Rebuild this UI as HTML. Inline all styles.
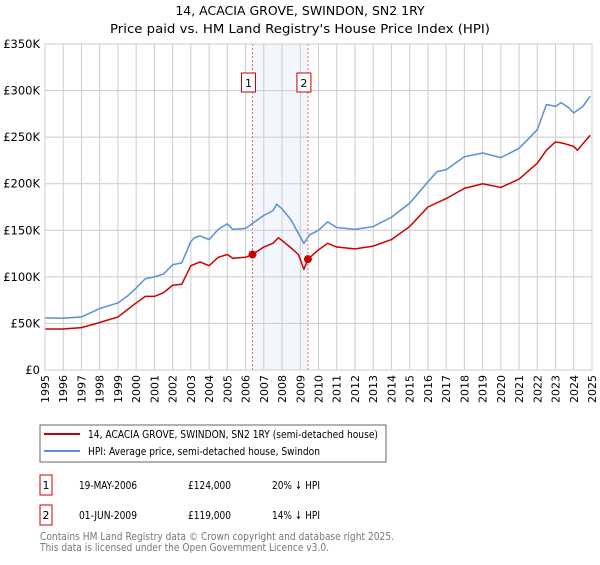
<!DOCTYPE html>
<html><head><meta charset="utf-8"><style>
body{margin:0;background:#fff;font-family:"Liberation Sans","DejaVu Sans",sans-serif;}
svg text{font-family:"DejaVu Sans","Liberation Sans",sans-serif;}
</style></head><body>
<svg id="c" width="600" height="560" viewBox="0 0 600 560" xmlns="http://www.w3.org/2000/svg">
<text x="300" y="15" text-anchor="middle" font-size="12.5" fill="#000">14, ACACIA GROVE, SWINDON, SN2 1RY</text>
<text x="300" y="33" text-anchor="middle" font-size="12.5" fill="#000" textLength="380" lengthAdjust="spacingAndGlyphs">Price paid vs. HM Land Registry's House Price Index (HPI)</text>
<g id="plot"></g>
<g>
<rect x="40" y="425" width="346" height="37" fill="#fff" stroke="#666"/>
<line x1="44" y1="434" x2="80" y2="434" stroke="#cc0000" stroke-width="2"/>
<text x="88" y="438" font-size="11" textLength="290" lengthAdjust="spacingAndGlyphs">14, ACACIA GROVE, SWINDON, SN2 1RY (semi-detached house)</text>
<line x1="44" y1="451" x2="80" y2="451" stroke="#5b8fd4" stroke-width="2"/>
<text x="88" y="455" font-size="11" textLength="232" lengthAdjust="spacingAndGlyphs">HPI: Average price, semi-detached house, Swindon</text>
</g>
<g font-size="11">
<rect x="40" y="475" width="12" height="20" fill="#fff" stroke="#cc0000"/>
<text x="46" y="489" text-anchor="middle">1</text>
<text x="79" y="489" textLength="58" lengthAdjust="spacingAndGlyphs">19-MAY-2006</text><text x="188" y="489" textLength="43" lengthAdjust="spacingAndGlyphs">£124,000</text><text x="272" y="489" textLength="48" lengthAdjust="spacingAndGlyphs">20% ↓ HPI</text>
<rect x="40" y="505" width="12" height="20" fill="#fff" stroke="#cc0000"/>
<text x="46" y="519" text-anchor="middle">2</text>
<text x="79" y="519" textLength="58" lengthAdjust="spacingAndGlyphs">01-JUN-2009</text><text x="188" y="519" textLength="43" lengthAdjust="spacingAndGlyphs">£119,000</text><text x="272" y="519" textLength="48" lengthAdjust="spacingAndGlyphs">14% ↓ HPI</text>
</g>
<text x="40" y="540" font-size="11" fill="#777" textLength="354" lengthAdjust="spacingAndGlyphs">Contains HM Land Registry data © Crown copyright and database right 2025.</text>
<text x="40" y="551" font-size="11" fill="#777" textLength="289" lengthAdjust="spacingAndGlyphs">This data is licensed under the Open Government Licence v3.0.</text>
</svg>
<script>
const yTicks=[0,50,100,150,200,250,300,350];
const yTickLabels=["£0","£50K","£100K","£150K","£200K","£250K","£300K","£350K"];
const years=[1995,1996,1997,1998,1999,2000,2001,2002,2003,2004,2005,2006,2007,2008,2009,2010,2011,2012,2013,2014,2015,2016,2017,2018,2019,2020,2021,2022,2023,2024,2025];
const hpiT=[1995,1996,1997,1998,1999,1999.5,2000,2000.5,2001,2001.5,2002,2002.5,2003,2003.2,2003.5,2004,2004.5,2005,2005.3,2006,2006.5,2007,2007.5,2007.7,2008,2008.5,2008.8,2009.2,2009.5,2010,2010.5,2011,2012,2013,2014,2015,2016,2016.5,2017,2018,2019,2020,2021,2022,2022.5,2023,2023.3,2023.7,2024,2024.5,2024.9];
const hpiV=[56,55.5,57,66,72,79,88,98,100,103,113,115,138,142,144,140,151,157,151,152,159,166,171,178,173,161,150,136,145,150,159,153,151,154,164,179,202,213,215,229,233,228,238,258,285,283,287,282,276,283,294];
const paidT=[1995,1996,1997,1998,1999,2000,2000.5,2001,2001.5,2002,2002.5,2003,2003.5,2004,2004.5,2005,2005.3,2006,2006.38,2007,2007.5,2007.8,2008,2008.5,2008.9,2009.2,2009.42,2010,2010.5,2011,2012,2013,2014,2015,2016,2017,2018,2019,2020,2021,2022,2022.5,2023,2023.5,2024,2024.2,2024.9];
const paidV=[44,44,45.5,51,57,72,79,79,83,91,92,112,116,112,121,124,120,121,124,132,136,142,139,131,124,108,119,129,136,132,130,133,140,154,175,184,195,200,196,205,222,236,245,243,240,236,252];
const saleT=[2006.38,2009.42];
const saleV=[124,119];
const saleLabels=["1","2"];
const X0=45,X1=592,Y0=370,Y1=44;
const xS=t=>X0+(t-1995)/30*(X1-X0);
const yS=v=>Y0-v/350*(Y0-Y1);
const NS="http://www.w3.org/2000/svg";
const g=document.getElementById('plot');
function mk(tag,attrs){const e=document.createElementNS(NS,tag);for(const k in attrs)e.setAttribute(k,attrs[k]);g.appendChild(e);return e;}
let sh=mk('rect',{x:xS(saleT[0]),y:Y1,width:xS(saleT[1])-xS(saleT[0]),height:Y0-Y1,fill:'#eef3fc',opacity:0.7});


years.forEach(y=>{let l=mk('line',{x1:xS(y),x2:xS(y),y1:Y1,y2:Y0,stroke:'#ccc'});


let t=mk('text',{x:0,y:0,'font-size':11,'text-anchor':'end',transform:`translate(${xS(y)+4},${Y0+5}) rotate(-90)`});t.textContent=y;

});
yTicks.forEach((v,i)=>{let l=mk('line',{x1:X0,x2:X1,y1:yS(v),y2:yS(v),stroke:'#ccc'});


let t=mk('text',{x:40,y:yS(v)+4,'font-size':11.5,'text-anchor':'end'});t.textContent=yTickLabels[i];

});
saleT.forEach((t,i)=>{let l=mk('line',{x1:xS(t),x2:xS(t),y1:Y1,y2:Y0,stroke:'#e66','stroke-dasharray':'2,2'});


let r=mk('rect',{x:xS(t)-11,y:73,width:14,height:19,fill:'#fff',stroke:'#cc0000'});


let tx=mk('text',{x:xS(t)-4,y:87,'font-size':11,'text-anchor':'middle'});tx.textContent=saleLabels[i];

});
function line(T,V,c,n){let p=mk('polyline',{points:T.map((t,i)=>xS(t)+','+yS(V[i])).join(' '),fill:'none',stroke:c,'stroke-width':1.5,'stroke-linejoin':'round'});

}
line(hpiT,hpiV,'#5b8fd4','hpi-line');
line(paidT,paidV,'#cc0000','price-paid-line');
saleT.forEach((t,i)=>{let c=mk('circle',{cx:xS(t),cy:yS(saleV[i]),r:4,fill:'#cc0000'});

});
let b=mk('rect',{x:X0,y:Y1,width:X1-X0,height:Y0-Y1,fill:'none',stroke:'#ccc'});


</script>
</body></html>
